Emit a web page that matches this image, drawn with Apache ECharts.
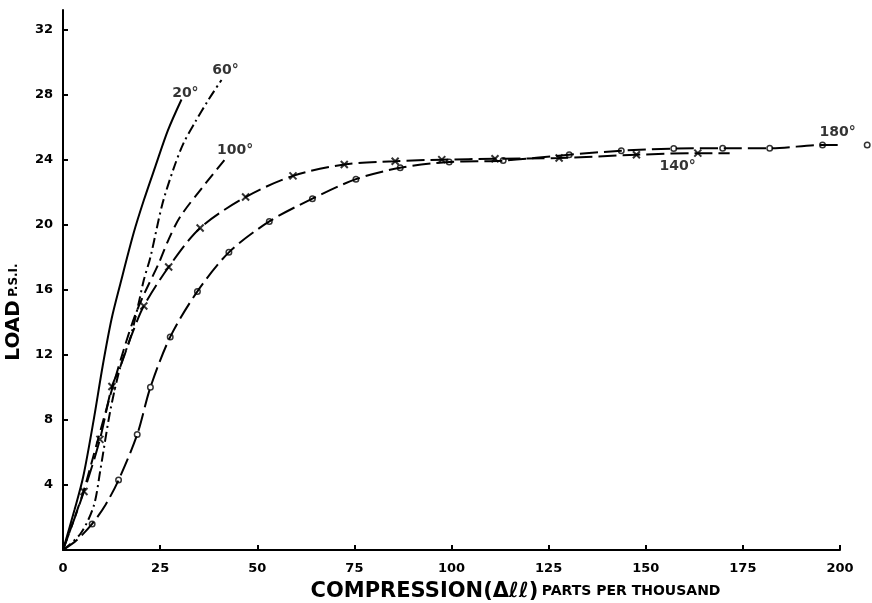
<!DOCTYPE html>
<html>
<head>
<meta charset="utf-8">
<script src="https://cdn.jsdelivr.net/npm/echarts@6/dist/echarts.min.js"></script>
<style>
  html, body { margin: 0; padding: 0; background: #fff; }
  #chart { width: 872px; height: 603px; }
</style>
</head>
<body>
<div id="chart"></div>
<script>
// curves: [compression, load]
const curve20 = [[0,0],[3,2.5],[5.2,4.5],[7.9,8],[10.2,11.3],[12.5,14.2],[14.8,16.4],[18.2,19.5],[20.8,21.5],[23.8,23.6],[27,25.8],[30.5,27.7]];
const curve60 = [[0,0],[4.5,1.0],[7.9,2.7],[9.6,4.9],[12.2,8.6],[14.8,11.3],[17.4,13.1],[19.5,15.2],[20.8,16.6],[22.5,18],[25.5,21.2],[28.4,23.4],[31,25],[34,26.3],[37.5,27.7],[40.8,28.9]];
const curve100 = [[0,0],[5,3.4],[9,6.8],[13,10.2],[16,12.6],[18.5,14.4],[21,15.8],[24.6,17.6],[27.2,19.1],[30.2,20.5],[35.9,22.3],[42.3,24.2]];
const curve140 = [[0,0],[5.4,3.6],[9.5,6.8],[12.6,10.05],[14.8,11.3],[17.8,13.3],[20.8,15],[27.2,17.4],[35.3,19.8],[47,21.7],[59.2,23],[72.4,23.7],[85.5,23.9],[97.5,24.0],[111.2,24.05],[127.7,24.1],[147.6,24.3],[163.4,24.4],[171.6,24.4]];
const marks140 = [[5.4,3.6],[9.5,6.8],[12.6,10.05],[20.8,15],[27.2,17.4],[35.3,19.8],[47,21.7],[59.2,23],[72.4,23.7],[85.5,23.9],[97.5,24.0],[111.2,24.05],[127.7,24.1],[147.6,24.3],[163.4,24.4]];
const curve180 = [[0,0],[3.5,0.6],[7.5,1.6],[11,2.8],[14.3,4.3],[19.1,7.1],[22.5,10],[27.6,13.1],[34.6,15.9],[42.7,18.3],[53.1,20.2],[64.2,21.6],[75.4,22.8],[86.8,23.5],[99.4,23.86],[113.3,23.94],[130.3,24.3],[143.7,24.55],[157.2,24.68],[169.8,24.7],[181.9,24.7],[195.5,24.9],[207,24.9]];
const marks180 = [[7.5,1.6],[14.3,4.3],[19.1,7.1],[22.5,10],[27.6,13.1],[34.6,15.9],[42.7,18.3],[53.1,20.2],[64.2,21.6],[75.4,22.8],[86.8,23.5],[99.4,23.86],[113.3,23.94],[130.3,24.3],[143.7,24.55],[157.2,24.68],[169.8,24.7],[181.9,24.7],[195.5,24.9],[207,24.9]];
const curveLabels = [[31.5,28.1,'20°'],[41.8,29.5,'60°'],[44.3,24.6,'100°'],[158.2,23.6,'140°'],[199.4,25.7,'180°']];
const xTicks = [0,25,50,75,100,125,150,175,200];
const yTicks = [4,8,12,16,20,24,28,32];

const FONT = 'DejaVu Sans';
const chart = echarts.init(document.getElementById('chart'));

function line(name, data, dash){
    return {
        name: name,
        type: 'line',
        data: data,
        smooth: 0.3,
        showSymbol: false,
        clip: false,
        silent: true,
        lineStyle: { color: '#000', width: 2, type: dash }
    };
}

chart.setOption({
    animation: false,
    grid: { left: 63, right: 32, top: 10, bottom: 53, containLabel: false, outerBoundsMode: 'none' },
    xAxis: {
        type: 'value',
        min: 0,
        max: 200,
        interval: 25,
        name: '{a|COMPRESSION(Δℓℓ)} {b|PARTS PER THOUSAND}',
        nameLocation: 'middle',
        nameGap: 31,
        nameTextStyle: {
            padding: [0, 0, 0, 128],
            rich: {
                a: { fontFamily: FONT, fontSize: 21, fontWeight: 'bold', color: '#000' },
                b: { fontFamily: FONT, fontSize: 14, fontWeight: 'bold', color: '#000' }
            }
        },
        axisLine: { lineStyle: { color: '#000', width: 2 } },
        axisTick: { inside: true, length: 5, lineStyle: { color: '#000', width: 2 } },
        axisLabel: {
            margin: 12,
            color: '#000',
            fontFamily: FONT,
            fontWeight: 'bold',
            fontSize: 13,
            formatter: v => xTicks.indexOf(v) >= 0 ? String(v) : ''
        },
        splitLine: { show: false }
    },
    yAxis: {
        type: 'value',
        min: 0,
        max: 33.2,
        interval: 4,
        name: '{a|LOAD} {b|P.S.I.}',
        nameLocation: 'middle',
        nameGap: 36,
        nameRotate: 90,
        nameTextStyle: {
            padding: [0, 64, 0, 0],
            rich: {
                a: { fontFamily: FONT, fontSize: 20, fontWeight: 'bold', color: '#000' },
                b: { fontFamily: FONT, fontSize: 12, fontWeight: 'bold', color: '#000' }
            }
        },
        axisLine: { lineStyle: { color: '#000', width: 2 } },
        axisTick: { inside: true, length: 5, lineStyle: { color: '#000', width: 2 } },
        axisLabel: {
            margin: 10,
            color: '#000',
            fontFamily: FONT,
            fontWeight: 'bold',
            fontSize: 13,
            showMinLabel: false,
            showMaxLabel: false,
            formatter: v => yTicks.indexOf(v) >= 0 ? String(v) : ''
        },
        splitLine: { show: false }
    },
    series: [
        line('20°', curve20, 'solid'),
        line('60°', curve60, [10, 4, 2, 4]),
        line('100°', curve100, [12, 6]),
        line('140°', curve140, [18, 6]),
        line('180°', curve180, [18, 6]),
        {
            name: '140° pts',
            type: 'scatter',
            data: marks140,
            clip: false,
            symbol: 'path://M0,0L10,10M10,0L0,10',
            symbolSize: 7,
            itemStyle: { color: 'none', borderColor: '#000', borderWidth: 2 }
        },
        {
            name: '180° pts',
            type: 'scatter',
            data: marks180,
            clip: false,
            symbol: 'circle',
            symbolSize: 5.5,
            itemStyle: { color: '#fff', borderColor: '#000', borderWidth: 1.5 }
        },
        {
            name: 'labels',
            type: 'scatter',
            data: curveLabels,
            clip: false,
            symbolSize: 0,
            label: {
                show: true,
                position: 'inside',
                formatter: p => p.value[2],
                color: '#000',
                fontFamily: FONT,
                fontSize: 14,
                fontWeight: 'bold'
            }
        }
    ]
});
</script>
</body>
</html>
